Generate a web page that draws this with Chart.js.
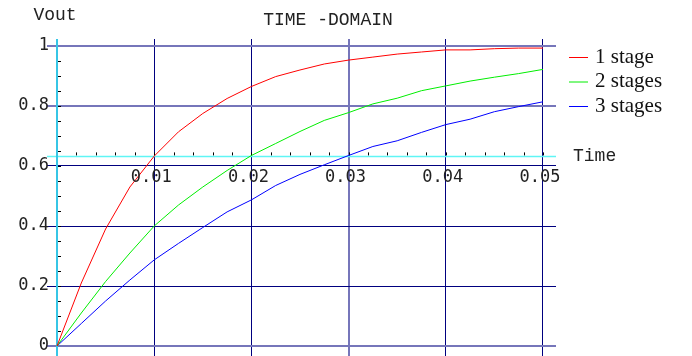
<!DOCTYPE html>
<html>
<head>
<meta charset="utf-8">
<script src="https://cdn.jsdelivr.net/npm/chart.js@4"></script>
<style>
  html, body { margin: 0; padding: 0; background: #fff; }
  canvas { display: block; }
</style>
</head>
<body>
<canvas id="chart" width="692" height="356"></canvas>
<script>
// values
const time = [0, 0.0025, 0.005, 0.0075, 0.01, 0.0125, 0.015, 0.0175, 0.02, 0.0225, 0.025,
              0.0275, 0.03, 0.0325, 0.035, 0.0375, 0.04, 0.0425, 0.045, 0.0475, 0.05];
const stage1 = [0, 0.21, 0.39, 0.53, 0.633, 0.714, 0.775, 0.825, 0.865, 0.898, 0.92,
                0.94, 0.953, 0.963, 0.973, 0.98, 0.987, 0.987, 0.991, 0.993, 0.993];
const stage2 = [0, 0.11, 0.215, 0.31, 0.40, 0.47, 0.53, 0.585, 0.635, 0.675, 0.715,
                0.752, 0.778, 0.807, 0.826, 0.851, 0.867, 0.883, 0.896, 0.908, 0.922];
const stage3 = [0, 0.075, 0.15, 0.22, 0.287, 0.342, 0.395, 0.447, 0.487, 0.535, 0.572,
                0.604, 0.635, 0.665, 0.684, 0.712, 0.738, 0.756, 0.781, 0.798, 0.814];

const seriesNames = ['1 stage', '2 stages', '3 stages'];
const seriesColours = ['#ff0000', '#00ee00', '#0000ff'];

const xTicks = [0.01, 0.02, 0.03, 0.04, 0.05];
const xTickLabels = ['0.01', '0.02', '0.03', '0.04', '0.05'];
const yTicks = [0, 0.2, 0.4, 0.6, 0.8, 1];
const yTickLabels = ['0', '0.2', '0.4', '0.6', '0.8', '1'];
const timeConstantLevel = 0.632;

const title = 'TIME -DOMAIN';
const yName = 'Vout';
const xName = 'Time';

const lightX = [0.03];
const lightY = [0, 0.8, 1];

function pts(ys) {
    return time.map((t, i) => ({x: t, y: ys[i]}));
}

function near(list, v) {
    return list.some(a => Math.abs(a - v) < 1e-9);
}

const monoFont = '"Liberation Mono", "DejaVu Sans Mono", monospace';

const axesPlugin = {
    id: 'axesPlugin',
    beforeDatasetsDraw(chart) {
        const ctx = chart.ctx;
        const xs = chart.scales.x, ys = chart.scales.y;
        const area = chart.chartArea;
        const x0 = xs.getPixelForValue(0);
        const yc = ys.getPixelForValue(timeConstantLevel);
        ctx.save();
        // cyan horizontal line at 63.2 %
        ctx.strokeStyle = '#5ff5f5';
        ctx.lineWidth = 1.5;
        ctx.beginPath();
        ctx.moveTo(area.left, yc);
        ctx.lineTo(area.right, yc);
        ctx.stroke();
        // minor ticks above it
        ctx.strokeStyle = '#000';
        ctx.lineWidth = 1;
        for (let i = 1; i <= 25; i++) {
            const px = Math.round(xs.getPixelForValue(i * 0.002)) + 0.5;
            ctx.beginPath();
            ctx.moveTo(px, yc - 4);
            ctx.lineTo(px, yc - 1);
            ctx.stroke();
        }
        // cyan vertical axis
        ctx.strokeStyle = '#36c6e6';
        ctx.lineWidth = 2;
        ctx.beginPath();
        ctx.moveTo(x0, area.top);
        ctx.lineTo(x0, area.bottom);
        ctx.stroke();
        // minor ticks right of the axis
        ctx.strokeStyle = '#000';
        ctx.lineWidth = 1;
        for (let i = 1; i < 20; i++) {
            const py = Math.round(ys.getPixelForValue(i * 0.05)) + 0.5;
            ctx.beginPath();
            ctx.moveTo(x0 + 1, py);
            ctx.lineTo(x0 + 4, py);
            ctx.stroke();
        }
        ctx.restore();
    },
    afterDraw(chart) {
        const ctx = chart.ctx;
        const xs = chart.scales.x, ys = chart.scales.y;
        const yc = ys.getPixelForValue(timeConstantLevel);
        ctx.save();
        ctx.fillStyle = '#222';
        ctx.textBaseline = 'middle';

        // tick labels
        ctx.font = '17px "DejaVu Sans Mono", monospace';
        ctx.textAlign = 'center';
        xTicks.forEach((v, i) => {
            ctx.fillText(xTickLabels[i], xs.getPixelForValue(v) - 3, yc + 21);
        });
        ctx.textAlign = 'right';
        yTicks.forEach((v, i) => {
            ctx.fillText(yTickLabels[i], 49, ys.getPixelForValue(v));
        });

        // title and axis names
        ctx.font = '18px ' + monoFont;
        ctx.textAlign = 'center';
        ctx.fillText(title, 328, 20);
        ctx.fillText(yName, 55, 15);
        ctx.textAlign = 'left';
        ctx.fillText(xName, 573, yc);

        // legend
        ctx.font = '21px "Liberation Serif", "Times New Roman", serif';
        chart.data.datasets.forEach((ds, i) => {
            const ly = 57 + i * 24.5;
            ctx.strokeStyle = ds.borderColor;
            ctx.lineWidth = 1;
            ctx.beginPath();
            ctx.moveTo(569, ly + 0.5);
            ctx.lineTo(588, ly + 0.5);
            ctx.stroke();
            ctx.fillStyle = '#111';
            ctx.fillText(ds.label, 595, ly);
        });
        ctx.restore();
    }
};

new Chart(document.getElementById('chart'), {
    type: 'line',
    data: {
        datasets: [stage1, stage2, stage3].map((s, i) => ({
            label: seriesNames[i],
            data: pts(s),
            borderColor: seriesColours[i],
            borderWidth: 1,
            pointRadius: 0,
            tension: 0,
            fill: false
        }))
    },
    options: {
        responsive: false,
        animation: false,
        devicePixelRatio: 1,
        layout: { padding: { left: 47, right: 136, top: 39, bottom: 0 } },
        plugins: {
            legend: { display: false },
            title: { display: false },
            tooltip: { enabled: false }
        },
        scales: {
            x: {
                type: 'linear',
                min: -0.00103,
                max: 0.05134,
                afterBuildTicks: s => { s.ticks = xTicks.map(v => ({value: v})); },
                ticks: { display: false },
                border: { display: false },
                grid: {
                    drawTicks: false,
                    color: c => near(lightX, c.tick.value) ? '#7676ba' : '#00007f',
                    lineWidth: c => near(lightX, c.tick.value) ? 2 : 1
                }
            },
            y: {
                type: 'linear',
                min: -0.0333,
                max: 1.0233,
                afterBuildTicks: s => { s.ticks = yTicks.map(v => ({value: v})); },
                ticks: { display: false },
                border: { display: false },
                grid: {
                    drawTicks: false,
                    color: c => near(lightY, c.tick.value) ? '#7676ba' : '#00007f',
                    lineWidth: c => near(lightY, c.tick.value) ? 2 : 1
                }
            }
        }
    },
    plugins: [axesPlugin]
});
</script>
</body>
</html>
